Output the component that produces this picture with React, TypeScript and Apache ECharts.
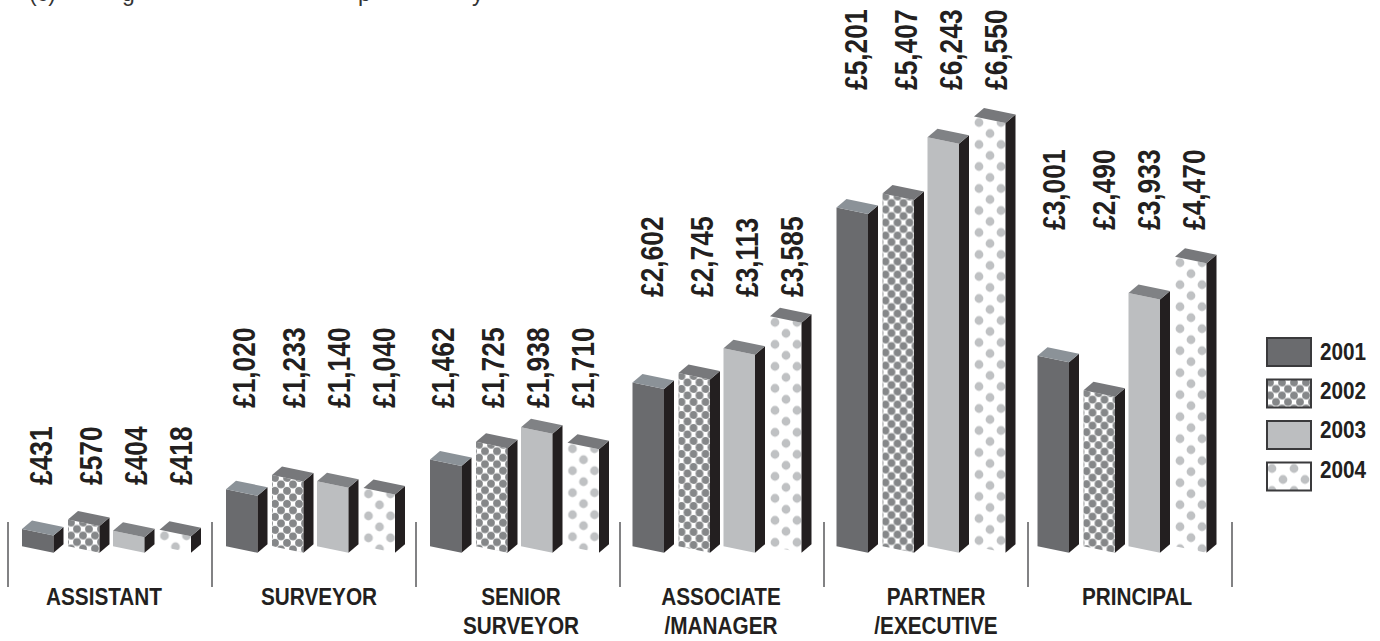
import React, { useEffect, useRef } from "react";
import * as echarts from "echarts";

const categories = ["ASSISTANT", "SURVEYOR", "SENIOR\nSURVEYOR", "ASSOCIATE\n/MANAGER", "PARTNER\n/EXECUTIVE", "PRINCIPAL"];
const years = ["2001", "2002", "2003", "2004"];
const values2001 = [431, 1020, 1462, 2602, 5201, 3001];
const values2002 = [570, 1233, 1725, 2745, 5407, 2490];
const values2003 = [404, 1140, 1938, 3113, 6243, 3933];
const values2004 = [418, 1040, 1710, 3585, 6550, 4470];
const allValues = [values2001, values2002, values2003, values2004];

// The reference's visible baseline sits at about this value, not at zero.
const BASE_VALUE = 175;
// Pixel row of the bottom of the rotated value labels, per category.
const labelBottoms = [485, 408, 408, 297, 90, 230];
const barOffsets = [-89.5, -43.5, 1.5, 48];
const labelOffsets = [-70, -20, 25, 70];
const groupNudges = [1.5, 1.5, 1.5, 0, 0, -3];
const labelNudges = [0, -1, -6, 0, 0, -3];
const catLabelNudges = [-6, 5, 3, -1, 10, 7];
const BAR_W = 31.5;
const DX = 10;
const DY = 8.5;
const SKEW = 6.5;
const NARROW_VALUE = 0.85;
const NARROW_TEXT = 0.865;
const FONT = '"Liberation Sans", Arial, sans-serif';
const INK = "#231f20";
const topColors = ["#8b9298", "#77787b", "#808285", "#77787b"];

function dots(tile: number[], r: number, pts: number[][], color: string) {
  const c = document.createElement("canvas");
  c.width = tile[0];
  c.height = tile[1];
  const g = c.getContext("2d")!;
  g.fillStyle = "#ffffff";
  g.fillRect(0, 0, tile[0], tile[1]);
  g.fillStyle = color;
  for (const [x, y] of pts) {
    for (const ox of [-tile[0], 0, tile[0]]) {
      for (const oy of [-tile[1], 0, tile[1]]) {
        g.beginPath();
        g.arc(x + ox, y + oy, r, 0, Math.PI * 2);
        g.fill();
      }
    }
  }
  return { type: "pattern", image: c.toDataURL(), repeat: "repeat", imageWidth: tile[0], imageHeight: tile[1] };
}

export default function App() {
  const ref = useRef<HTMLDivElement>(null);
  useEffect(() => {
    const chart = echarts.init(ref.current!, undefined, { renderer: "svg" });
    const fills: any[] = [
      "#6a6b6e",
      dots([12, 13], 3.9, [[3, 3], [9, 9.5]], "#858789"),
      "#bcbec0",
      dots([22, 22], 4.4, [[5, 6], [16, 17]], "#bfc1c3"),
    ];
    const series = years.map((year, si) => ({
      type: "custom",
      name: year,
      data: allValues[si].map((v, i) => [i, v]),
      clip: false,
      itemStyle: { color: fills[si], borderColor: "#3a3a3c", borderWidth: 1.5 },
      renderItem: (_: any, api: any) => {
        const cat = api.value(0);
        const val = api.value(1);
        const [cx0, yTop] = api.coord([cat, val]);
        const [, yBase] = api.coord([cat, BASE_VALUE]);
        const cx = cx0 + groupNudges[cat];
        const x = cx + barOffsets[si];
        const h = yBase - yTop;
        const label = "£" + val.toLocaleString("en-GB");
        const children: any[] = [
          {
            type: "polygon",
            x,
            y: yTop - SKEW,
            shape: { points: [[0, 0], [BAR_W, SKEW], [BAR_W, SKEW + h], [0, h]] },
            style: { fill: fills[si] },
          },
          {
            type: "polygon",
            shape: { points: [[x + BAR_W, yTop], [x + BAR_W + DX, yTop - DY], [x + BAR_W + DX, yBase - DY], [x + BAR_W, yBase]] },
            style: { fill: INK },
          },
          {
            type: "polygon",
            shape: { points: [[x, yTop - SKEW], [x + DX, yTop - SKEW - DY], [x + BAR_W + DX, yTop - DY], [x + BAR_W, yTop]] },
            style: { fill: topColors[si] },
          },
          {
            type: "text",
            x: cx + labelOffsets[si] + labelNudges[cat],
            y: labelBottoms[cat],
            rotation: Math.PI / 2,
            scaleX: NARROW_VALUE,
            style: { text: label, fill: INK, font: `bold 31px ${FONT}`, align: "left", verticalAlign: "middle" },
          },
        ];
        if (si === 0) {
          children.push({
            type: "text",
            x: cx0 + catLabelNudges[cat],
            y: 582,
            scaleX: NARROW_TEXT,
            style: {
              text: categories[cat],
              fill: INK,
              font: `bold 24px ${FONT}`,
              lineHeight: 29,
              align: "center",
              verticalAlign: "top",
            },
          });
        }
        return { type: "group", children };
      },
    }));
    const tails = [
      { text: "(c)", x: 29 },
      { text: "g", x: 122 },
      { text: "p", x: 358 },
      { text: "y", x: 472 },
    ];
    const legendRows = [352, 391, 430, 469.5];
    chart.setOption({
      animation: false,
      backgroundColor: "#ffffff",
      grid: { left: 8, width: 1224, top: 0, height: 587 },
      xAxis: {
        type: "category",
        data: categories,
        axisLine: { show: false, onZero: false },
        axisTick: { show: true, inside: true, length: 65, lineStyle: { color: "#58595b", width: 1.5 } },
        axisLabel: { show: false },
      },
      yAxis: { type: "value", min: -334, max: 8375, show: false, splitLine: { show: false } },
      legend: {
        orient: "vertical",
        left: 1266,
        top: 337,
        icon: "rect",
        itemWidth: 44,
        itemHeight: 28,
        itemGap: 11.5,
        padding: 0,
        selectedMode: false,
        data: years,
        formatter: () => "",
      },
      graphic: [
        ...tails.map((t) => ({
          type: "text",
          x: t.x,
          y: -19,
          silent: true,
          style: { text: t.text, fill: "#333333", font: `23px ${FONT}` },
        })),
        ...years.map((year, i) => ({
          type: "text",
          x: 1320,
          y: legendRows[i],
          scaleX: NARROW_TEXT,
          silent: true,
          style: { text: year, fill: INK, font: `bold 24px ${FONT}`, align: "left", verticalAlign: "middle" },
        })),
      ],
      series,
    });
    return () => chart.dispose();
  }, []);
  return <div ref={ref} style={{ position: "absolute", left: 0, top: 0, width: 1380, height: 641 }} />;
}
